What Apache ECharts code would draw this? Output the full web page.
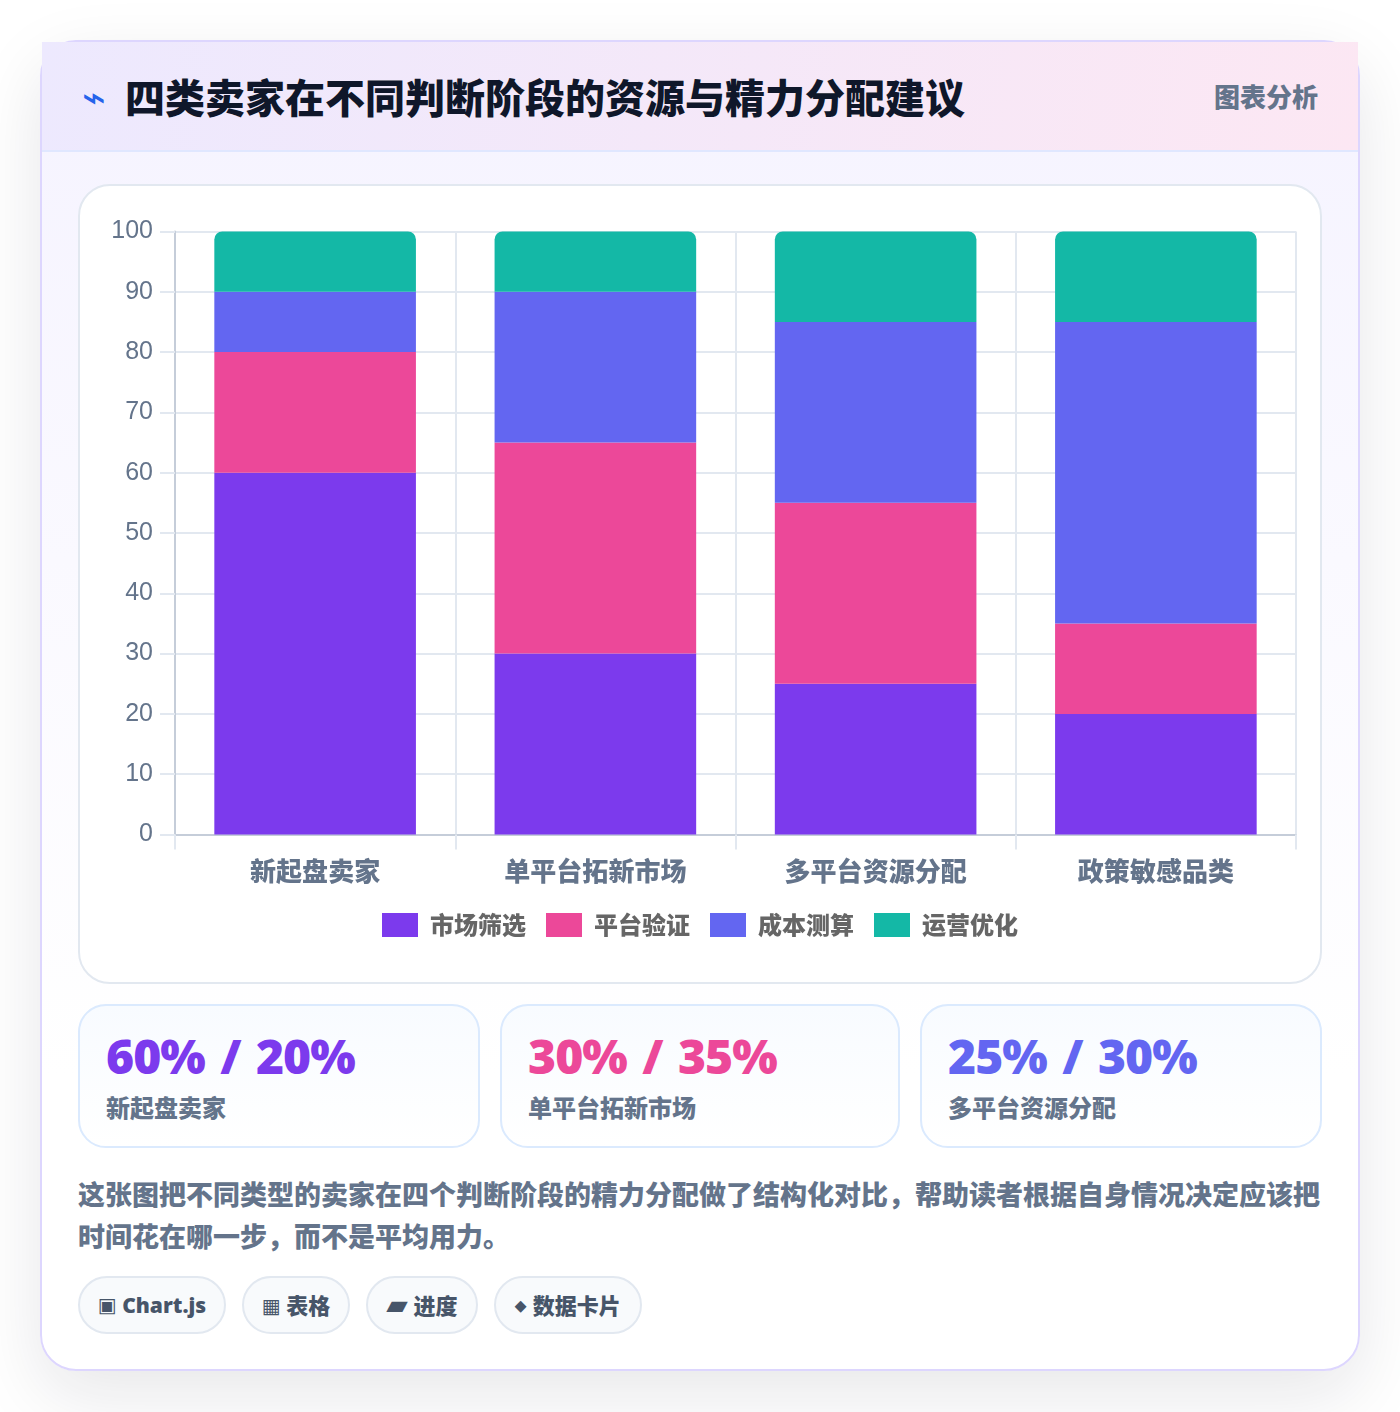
<!DOCTYPE html>
<html lang="zh-CN">
<head>
<meta charset="utf-8">
<title>四类卖家在不同判断阶段的资源与精力分配建议</title>
<script src="https://cdn.jsdelivr.net/npm/echarts@6/dist/echarts.min.js"></script>
<style>
  html, body { margin: 0; padding: 0; background: #fff; }
  body { width: 1400px; height: 1412px; position: relative; overflow: hidden;
         font-family: "Noto Sans", "Noto Sans CJK SC", sans-serif; }
  .card { position: absolute; left: 40px; top: 40px; width: 1320px; height: 1331px; box-sizing: border-box;
          border: 2px solid #ddd6fe; border-radius: 36px;
          background: linear-gradient(180deg, #f5f3ff 0%, #ffffff 78%);
          box-shadow: 0 24px 70px rgba(15, 23, 42, .10); }
  .head { position: absolute; left: 0; top: 0; width: 1316px; height: 110px; box-sizing: border-box;
          border-bottom: 2px solid #e0e7ff;
          background: linear-gradient(100deg, #ede9fe 0%, #fce7f3 100%); }
  .bolt { position: absolute; left: 40px; top: 38px; font-family: "DejaVu Sans"; font-size: 40px; line-height: 34px; color: #2563eb; font-weight: 400; }
  h1 { position: absolute; left: 83px; top: 28px; margin: 0; font-size: 40px; line-height: 56px; font-weight: 900; color: #0f172a; white-space: nowrap; }
  .tag { position: absolute; right: 40px; top: 36px; font-size: 26px; line-height: 38px; font-weight: 900; color: #64748b; white-space: nowrap; }
  .panel { position: absolute; left: 36px; top: 142px; width: 1244px; height: 800px; box-sizing: border-box;
           border: 2px solid #e2e8f0; border-radius: 32px; background: #fff; }
  #chart { position: absolute; left: 0; top: 0; width: 1240px; height: 796px; }
  .stat { position: absolute; top: 962px; height: 144px; box-sizing: border-box; border: 2px solid #dbeafe; border-radius: 28px;
          background: linear-gradient(180deg, #f8fbff 0%, #ffffff 100%); }
  .stat b { position: absolute; left: 26px; top: 18px; font-family: "Open Sans"; font-size: 48px; line-height: 64px; font-weight: 800;
            letter-spacing: -1px; word-spacing: 4px; white-space: nowrap; }
  .stat span { position: absolute; left: 26px; top: 85px; font-size: 24px; line-height: 34px; font-weight: 900; color: #64748b; white-space: nowrap; }
  .note { position: absolute; left: 36px; top: 1132px; width: 1244px; margin: 0; font-size: 27px; line-height: 42px; font-weight: 900; color: #64748b; }
  .pill { position: absolute; top: 1234px; height: 58px; box-sizing: border-box; border: 2px solid #e2e8f0; border-radius: 29px; background: #f8fafc;
          font-family: "Open Sans", "Noto Sans CJK SC"; font-size: 22px; line-height: 54px; font-weight: 800; color: #475569; text-align: center; white-space: nowrap; }
  .pill i { position: relative; top: -1px; font-style: normal; font-family: "DejaVu Sans"; font-size: 20px; font-weight: 400; }
  .pill:first-child { font-size: 21px; }
  .pill:nth-child(3) i { font-size: 28px; top: 0; }
  .pill:last-child i { font-size: 16px; font-weight: 700; top: -3px; margin-right: 1px; }
</style>
</head>
<body>
<div class="card">
  <div class="head">
    <div class="bolt">⌁</div>
    <h1 id="title"></h1>
    <div class="tag" id="tag"></div>
  </div>
  <div class="panel"><div id="chart"></div></div>
  <div id="stats"></div>
  <p class="note" id="note"></p>
  <div id="pills"></div>
</div>
<script>
  // Resource split per seller type, in percent of total effort
  const categories = ['新起盘卖家', '单平台拓新市场', '多平台资源分配', '政策敏感品类'];
  const seriesNames = ['市场筛选', '平台验证', '成本测算', '运营优化'];
  const marketScreening = [60, 30, 25, 20];
  const platformValidation = [20, 35, 30, 15];
  const costEstimate = [10, 25, 30, 50];
  const operations = [10, 10, 15, 15];
  const seriesColors = ['#7c3aed', '#ec4899', '#6366f1', '#14b8a6'];

  const titleText = '四类卖家在不同判断阶段的资源与精力分配建议';
  const tagText = '图表分析';
  const noteText = '这张图把不同类型的卖家在四个判断阶段的精力分配做了结构化对比，帮助读者根据自身情况决定应该把时间花在哪一步，而不是平均用力。';
  const statValues = ['60% / 20%', '30% / 35%', '25% / 30%'];
  const statLabels = ['新起盘卖家', '单平台拓新市场', '多平台资源分配'];
  const statColors = ['#7c3aed', '#ec4899', '#6366f1'];
  const statLefts = [36, 458, 878];
  const statWidths = [402, 400, 402];
  const pillIcons = ['▣', '▦', '▰', '⬥'];
  const pillTexts = ['Chart.js', '表格', '进度', '数据卡片'];
  const pillLefts = [36, 200, 324, 452];
  const pillWidths = [148, 108, 112, 148];

  document.getElementById('title').textContent = titleText;
  document.getElementById('tag').textContent = tagText;
  document.getElementById('note').textContent = noteText;
  document.getElementById('stats').innerHTML = statValues.map((v, i) =>
    `<div class="stat" style="left:${statLefts[i]}px;width:${statWidths[i]}px"><b style="color:${statColors[i]}">${v}</b><span>${statLabels[i]}</span></div>`).join('');
  document.getElementById('pills').innerHTML = pillTexts.map((t, i) =>
    `<div class="pill" style="left:${pillLefts[i]}px;width:${pillWidths[i]}px"><i>${pillIcons[i]}</i> ${t}</div>`).join('');

  const seriesValues = [marketScreening, platformValidation, costEstimate, operations];
  const grid = { left: 95, top: 45.5, width: 1121, height: 603 };
  const lineGrey = '#e2e8f0';
  const axisGrey = '#c5cdd9';
  const chart = echarts.init(document.getElementById('chart'), null, { renderer: 'canvas' });
  chart.setOption({
    animation: false,
    grid,
    legend: {
      data: seriesNames, bottom: 40, left: 'center', icon: 'rect',
      itemWidth: 36, itemHeight: 24, itemGap: 20,
      textStyle: { fontFamily: '"Noto Sans CJK SC"', fontSize: 24, fontWeight: 900, color: '#666', padding: [0, 0, 0, 7] }
    },
    xAxis: {
      type: 'category', data: categories,
      axisLine: { lineStyle: { color: axisGrey, width: 2 } },
      axisTick: { show: true, length: 15, alignWithLabel: false, lineStyle: { color: lineGrey, width: 2 } },
      axisLabel: { fontFamily: '"Noto Sans CJK SC"', fontSize: 26, fontWeight: 900, color: '#64748b', margin: 24 },
      splitLine: { show: true, lineStyle: { color: lineGrey, width: 2 } }
    },
    yAxis: {
      type: 'value', min: 0, max: 100, interval: 10,
      axisLine: { show: true, lineStyle: { color: axisGrey, width: 2 } },
      axisTick: { show: true, length: 15, lineStyle: { color: lineGrey, width: 2 } },
      axisLabel: { fontFamily: '"Liberation Sans"', fontSize: 25, color: '#64748b', margin: 22, padding: [3, 0, 0, 0] },
      splitLine: { show: true, lineStyle: { color: lineGrey, width: 2 } }
    },
    series: seriesNames.map((name, i) => ({
      name, type: 'bar', stack: 'total', data: seriesValues[i], barWidth: 201.6,
      itemStyle: { color: seriesColors[i], borderRadius: i === seriesNames.length - 1 ? [8, 8, 0, 0] : 0 }
    }))
  });
</script>
</body>
</html>
